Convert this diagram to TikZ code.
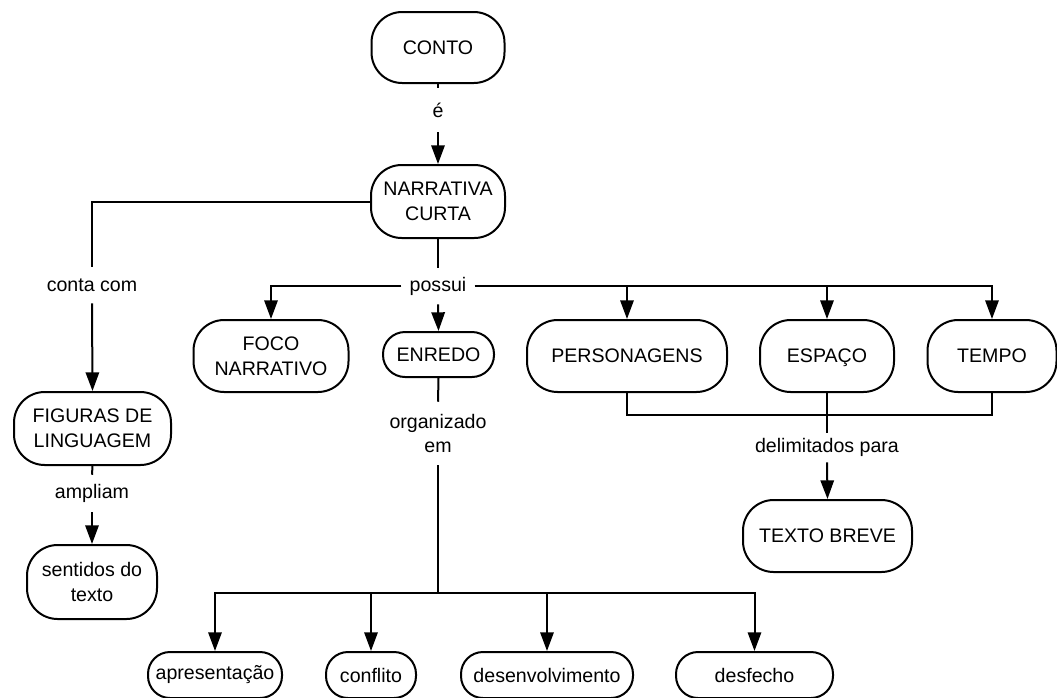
\documentclass[tikz,border=0pt]{standalone}
\usepackage{fontspec}
\setmainfont{Liberation Sans}
\usetikzlibrary{arrows.meta}
\tikzset{
  txt/.style={font=\fontsize{14.7}{18.5}\selectfont},
  box/.style={txt, draw, line width=1.5pt, rounded corners=23pt, align=center, inner sep=0pt},
  sbox/.style={box, rounded corners=16.5pt},
  sz/.style 2 args={minimum width=#1*0.75pt, minimum height=#2*0.75pt},
  lab/.style={txt, inner xsep=6pt, inner ysep=0pt, align=center, minimum height=#1*0.75pt},
  conn/.style={line width=1.5pt},
  arr/.style={conn, -{Triangle[length=14pt,width=10pt]}},
}
\begin{document}
\begin{tikzpicture}[x=0.75pt, y=-0.75pt]
\useasboundingbox (0,0) rectangle (1057,697);
% boxes
\node[box, sz={133}{71}] (conto) at (438,47.5) {CONTO};
\node[box, sz={134}{73}] (narr) at (438,201.5) {NARRATIVA\\CURTA};
\node[box, sz={155}{72}] (foco) at (271,356) {FOCO\\NARRATIVO};
\node[sbox, sz={111}{45}] (enredo) at (438.5,354.5) {ENREDO};
\node[box, sz={200}{72}] (pers) at (627,356) {PERSONAGENS};
\node[box, sz={134}{72}] (espaco) at (827,356) {ESPA\smash{Ç}O};
\node[box, sz={129}{72}] (tempo) at (992,356) {TEMPO};
\node[box, sz={157}{73}] (fig) at (92.5,428.5) {FIGURAS DE\\LINGUAGEM};
\node[box, sz={130}{74}] (sent) at (92,582) {sentidos do\\texto};
\node[box, sz={169}{72}] (breve) at (827.5,536) {TEXTO BREVE};
\node[sbox, sz={134}{46}] (apres) at (215,675) {apresenta\smash{çã}o};
\node[sbox, sz={90}{46}] (confl) at (371,675) {conflito};
\node[sbox, sz={172}{46}] (desenv) at (547,675) {desenvolvimento};
\node[sbox, sz={157}{46}] (desf) at (754.5,675) {desfecho};
% labels
\node[lab=44] (le) at (438,110) {é};
\node[lab=36] (lposs) at (438,286) {possui};
\node[lab=36] (lconta) at (92,285) {conta com};
\node[lab=63] (lorg) at (438,433.5) {organizado\\em};
\node[lab=37] (lampl) at (92,493.5) {ampliam};
\node[lab=29] (ldel) at (827,447.5) {delimitados para};
\coordinate (jb) at (438,593);
\coordinate (jt) at (827,415);
% connectors
\draw[conn] (conto.south) -- (le.north);
\draw[arr] (le.south) -- (narr.north);
\draw[conn] (narr.south) -- (lposs.north);
\draw[arr] (lposs.west) -| (foco.north);
\draw[arr] (lposs.south) -- (enredo.north);
\draw[arr] (lposs.east) -| (tempo.north);
\draw[arr] (pers.north |- lposs.east) -- (pers.north);
\draw[arr] (espaco.north |- lposs.east) -- (espaco.north);
\draw[conn] (narr.west) -| (lconta.north);
\draw[arr] (lconta.south) -- (fig.north);
\draw[conn] (fig.south) -- (lampl.north);
\draw[arr] (lampl.south) -- (sent.north);
\draw[conn] (enredo.south) -- (lorg.north);
\draw[conn] (lorg.south) -- (jb);
\draw[arr] (jb) -| (apres.north);
\draw[arr] (jb) -| (desf.north);
\draw[arr] (confl.north |- jb) -- (confl.north);
\draw[arr] (desenv.north |- jb) -- (desenv.north);
\draw[conn] (pers.south) |- (jt) -| (tempo.south);
\draw[conn] (espaco.south) -- (ldel.north);
\draw[arr] (ldel.south) -- (breve.north);
\end{tikzpicture}
\end{document}
